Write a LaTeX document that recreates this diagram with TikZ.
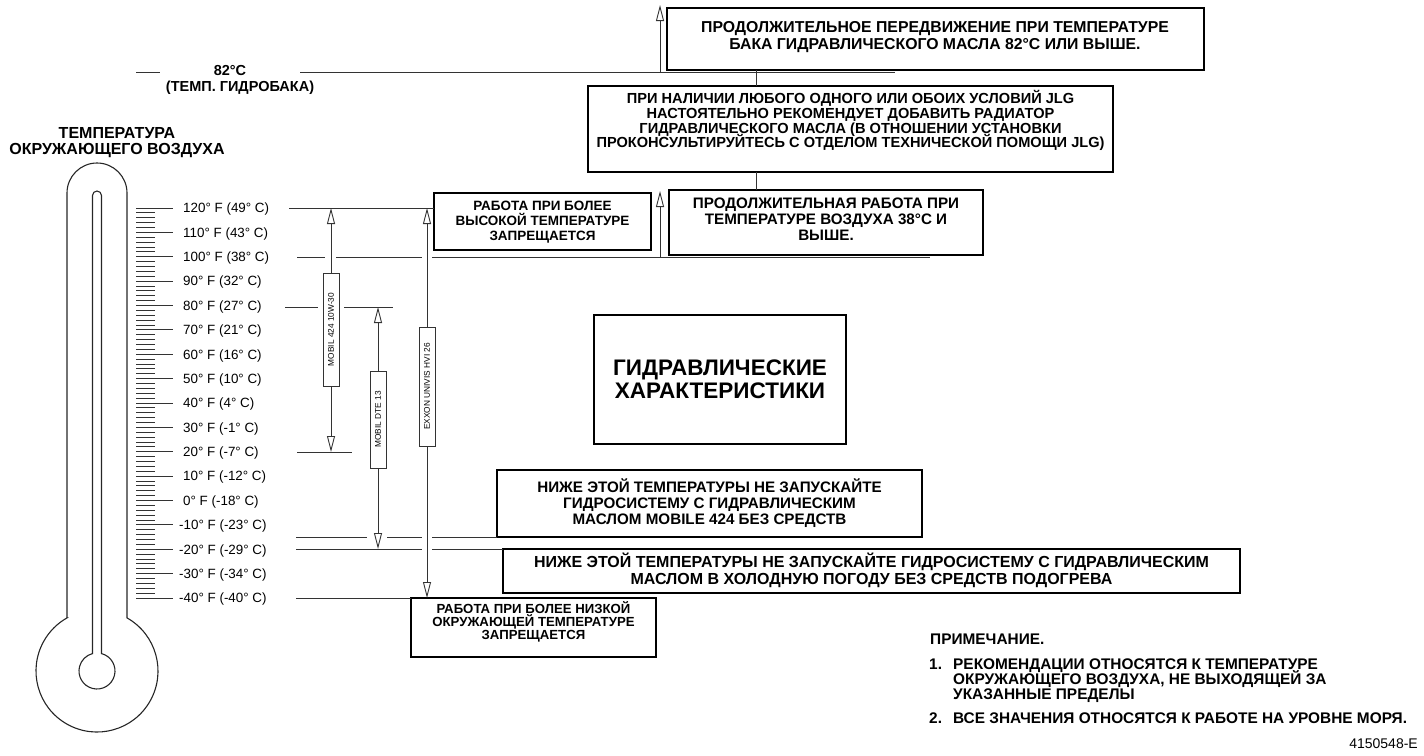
\documentclass[tikz,border=0pt]{standalone}
\usepackage{fontspec}
\setmainfont{Liberation Sans}
\usetikzlibrary{arrows.meta}
\definecolor{ln}{HTML}{333333}
\setlength{\lineskiplimit}{-100pt}
\setlength{\lineskip}{0pt}
\begin{document}
\begin{tikzpicture}[x=1pt,y=-1pt,
  thinln/.style={draw=ln, line width=0.9pt},
  tickln/.style={draw=ln, line width=0.9pt},
  thermo/.style={draw=black!85, line width=1.1pt},
  frame/.style={draw=black, line width=1.8pt, inner sep=0pt, outer sep=0pt, anchor=north west},
  btxt/.style n args={2}{inner sep=0pt, align=center, font=\bfseries\fontsize{#1}{#2}\selectfont},
  ntxt/.style={inner sep=0pt, align=left, font=\bfseries\fontsize{15.4}{15}\selectfont},
  lbl/.style={inner sep=0pt, font=\fontsize{13.4}{14}\selectfont},
  barlbl/.style={draw=ln, line width=0.9pt, fill=white, inner sep=0pt, outer sep=0pt, rotate=90, font=\fontsize{8.3}{9}\selectfont},
  up/.style={thinln, -{Triangle[open,length=16pt,width=8pt]}},
  both/.style={thinln, {Triangle[open,length=16pt,width=8pt]}-{Triangle[open,length=16pt,width=8pt]}}
]
\useasboundingbox (0,0) rectangle (1424,755);

% ---------------- thermometer ----------------
\begin{scope}[shift={(97,671)}, y=1pt]
  \draw[thermo] (-30,53.1) -- (-30,478) arc[start angle=180,end angle=0,radius=30]
     -- (30,53.1) arc[start angle=60.54,end angle=-240.54,radius=61] -- cycle;
  \draw[thermo] (-4.5,17.43) -- (-4.5,475.5) arc[start angle=180,end angle=0,radius=4.5]
     -- (4.5,17.43) arc[start angle=75.52,end angle=-255.52,radius=18] -- cycle;
\end{scope}
\node[btxt={16}{15.5}] (title) at (117,142.5) {ТЕМПЕРАТУРА\\ОКРУЖАЮЩЕГО ВОЗДУХА};

% ticks (every 2 F)
\foreach \i in {0,...,80}{
  \pgfmathsetmacro{\yy}{208+\i*4.875}
  \pgfmathtruncatemacro{\rr}{mod(\i,5)}
  \ifnum\rr=0 \draw[tickln] (136,\yy) -- (173,\yy); \else \draw[tickln] (136,\yy) -- (155,\yy); \fi
}
% scale labels
\foreach \f/\c [count=\k from 0] in {120/49,110/43,100/38,90/32,80/27,70/21,60/16,50/10,40/4,30/-1,20/-7,10/-12,0/-18,-10/-23,-20/-29,-30/-34,-40/-40}{
  \pgfmathsetmacro{\yy}{208+\k*24.375+4.8}
  \ifnum\f<0 \def\xx{179}\else\def\xx{183}\fi
  \node[lbl, anchor=base west] (s\k) at (\xx,\yy) {\f° F (\c° C)};
}

% ---------------- 82 C line ----------------
\node[btxt={14.5}{15}] (t82) at (230,71) {82°C};
\node[btxt={14.5}{15}] (t82b) at (240,88) {(ТЕМП. ГИДРОБАКА)};
\coordinate (h82a) at (136,72);
\coordinate (h82b) at (160,72);
\coordinate (h82c) at (300,72);
\coordinate (h82d) at (895,72);
\draw[thinln] (h82a) -- (h82b);
\draw[thinln] (h82c) -- (h82d);

% ---------------- boxes ----------------
\node[frame, minimum width=537pt, minimum height=62pt] (b1) at (667,8) {};
\node[btxt={15.8}{17}] (t1) at (935,37) {ПРОДОЛЖИТЕЛЬНОЕ ПЕРЕДВИЖЕНИЕ ПРИ ТЕМПЕРАТУРЕ\\БАКА ГИДРАВЛИЧЕСКОГО МАСЛА 82°C ИЛИ ВЫШЕ.};

\node[frame, minimum width=525pt, minimum height=86pt] (b2) at (588,86) {};
\node[btxt={14.6}{14.9}] (t2) at (850.5,120.5) {ПРИ НАЛИЧИИ ЛЮБОГО ОДНОГО ИЛИ ОБОИХ УСЛОВИЙ JLG\\НАСТОЯТЕЛЬНО РЕКОМЕНДУЕТ ДОБАВИТЬ РАДИАТОР\\ГИДРАВЛИЧЕСКОГО МАСЛА (В ОТНОШЕНИИ УСТАНОВКИ\\ПРОКОНСУЛЬТИРУЙТЕСЬ С ОТДЕЛОМ ТЕХНИЧЕСКОЙ ПОМОЩИ JLG)};

\node[frame, minimum width=314pt, minimum height=65pt] (b3) at (669,190) {};
\node[btxt={15.2}{16}] (t3) at (826,219) {ПРОДОЛЖИТЕЛЬНАЯ РАБОТА ПРИ\\ТЕМПЕРАТУРЕ ВОЗДУХА 38°C И\\ВЫШЕ.};

\node[frame, minimum width=217pt, minimum height=57pt] (b4) at (434,193) {};
\node[btxt={13.5}{15}] (t4) at (542.5,222) {РАБОТА ПРИ БОЛЕЕ\\ВЫСОКОЙ ТЕМПЕРАТУРЕ\\ЗАПРЕЩАЕТСЯ};

\node[frame, minimum width=252pt, minimum height=129pt] (bc) at (594,315) {};
\node[btxt={22.5}{23}] (tc) at (720,379) {ГИДРАВЛИЧЕСКИЕ\\ХАРАКТЕРИСТИКИ};

\node[frame, minimum width=425pt, minimum height=67pt] (b5) at (497,470) {};
\node[btxt={15.2}{16}] (t5) at (709.5,503) {НИЖЕ ЭТОЙ ТЕМПЕРАТУРЫ НЕ ЗАПУСКАЙТЕ\\ГИДРОСИСТЕМУ С ГИДРАВЛИЧЕСКИМ\\МАСЛОМ MOBILE 424 БЕЗ СРЕДСТВ};

\node[frame, minimum width=737pt, minimum height=44pt] (b6) at (503,549) {};
\node[btxt={16}{17.5}] (t6) at (871.5,570.5) {НИЖЕ ЭТОЙ ТЕМПЕРАТУРЫ НЕ ЗАПУСКАЙТЕ ГИДРОСИСТЕМУ С ГИДРАВЛИЧЕСКИМ\\МАСЛОМ В ХОЛОДНУЮ ПОГОДУ БЕЗ СРЕДСТВ ПОДОГРЕВА};

\node[frame, minimum width=245pt, minimum height=59pt] (b7) at (411,598) {};
\node[btxt={13.2}{12.8}] (t7) at (533.5,622) {РАБОТА ПРИ БОЛЕЕ НИЗКОЙ\\ОКРУЖАЮЩЕЙ ТЕМПЕРАТУРЕ\\ЗАПРЕЩАЕТСЯ};

% connectors between top boxes
\coordinate (cx) at (756,0);
\draw[thinln] (b1.south -| cx) -- (b2.north -| cx);
\draw[thinln] (b2.south -| cx) -- (b3.north -| cx);

% up arrows
\coordinate (a1s) at (660,72);
\coordinate (a1e) at (660,5);
\draw[up] (a1s) -- (a1e);
\coordinate (a3s) at (660,257);
\coordinate (a3e) at (660,191);
\draw[up] (a3s) -- (a3e);

% ---------------- scale lines ----------------
\coordinate (h120) at (289,208);
\draw[thinln] (h120) -- (h120 -| b4.west);
\draw[thinln] (297,257) -- (325,257);
\draw[thinln] (336,257) -- (422,257);
\draw[thinln] (432,257) -- (930,257);
\draw[thinln] (285,307) -- (318,307);
\draw[thinln] (344,307) -- (393,307);
\draw[thinln] (297,452) -- (352,452);
\draw[thinln] (296,537) -- (367,537);
\draw[thinln] (387,537) -- (422,537);
\draw[thinln] (432,537) -- (b5.south west);
\draw[thinln] (296,549) -- (422,549);
\draw[thinln] (432,549) -- (b6.north west);
\coordinate (h40) at (296,598);
\draw[thinln] (h40) -- (b7.north west);

% ---------------- oil ranges ----------------
\coordinate (m1t) at (331,208);
\coordinate (m1b) at (331,452);
\draw[both] (m1t) -- (m1b);
\node[barlbl, minimum width=113pt, minimum height=16pt] (l1) at (331,329.5) {MOBIL 424 10W-30};

\coordinate (m2t) at (378,307);
\coordinate (m2b) at (378,549);
\draw[both] (m2t) -- (m2b);
\node[barlbl, minimum width=97pt, minimum height=16pt] (l2) at (378,419.5) {MOBIL DTE 13};

\coordinate (m3t) at (427,208);
\coordinate (m3b) at (427,598);
\draw[both] (m3t) -- (m3b);
\node[barlbl, minimum width=119pt, minimum height=16pt] (l3) at (427,386.5) {EXXON UNIVIS HVI 26};

% ---------------- notes ----------------
\node[ntxt, anchor=west] (nh) at (930,639) {ПРИМЕЧАНИЕ.};
\node[ntxt, anchor=base west] (n1) at (929,669.5) {1.};
\node[ntxt, anchor=north west] (n1t) at (953,658.5) {РЕКОМЕНДАЦИИ ОТНОСЯТСЯ К ТЕМПЕРАТУРЕ\\ОКРУЖАЮЩЕГО ВОЗДУХА, НЕ ВЫХОДЯЩЕЙ ЗА\\УКАЗАННЫЕ ПРЕДЕЛЫ};
\node[ntxt, anchor=west] (n2) at (929,718) {2.};
\node[ntxt, anchor=west] (n2t) at (953,718) {ВСЕ ЗНАЧЕНИЯ ОТНОСЯТСЯ К РАБОТЕ НА УРОВНЕ МОРЯ.};
\node[lbl, anchor=east, font=\fontsize{14}{14}\selectfont] (code) at (1418,744) {4150548-E};
\end{tikzpicture}
\end{document}
